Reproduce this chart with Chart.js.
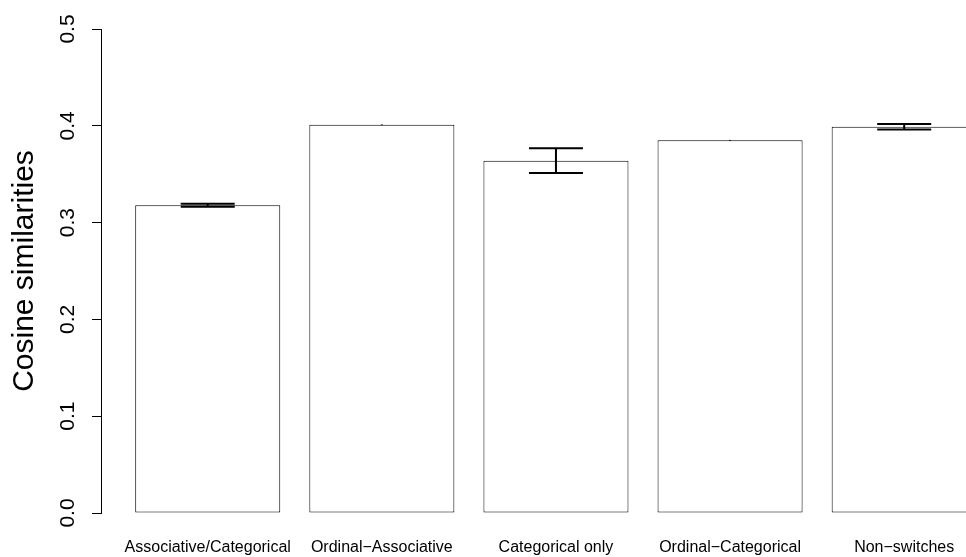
<!DOCTYPE html>
<html>
<head>
<meta charset="utf-8">
<script src="https://cdn.jsdelivr.net/npm/chart.js@4"></script>
<style>
  html, body { margin: 0; padding: 0; background: #fff; overflow: hidden; }
  canvas { display: block; }
</style>
</head>
<body>
<canvas id="barChart" width="966" height="557"></canvas>
<script>
// Data
const categories = ['Associative/Categorical', 'Ordinal\u2212Associative', 'Categorical only', 'Ordinal\u2212Categorical', 'Non\u2212switches'];
const means = [0.318, 0.401, 0.364, 0.385, 0.399];
const errors = [0.0015, 0.0004, 0.0128, 0.0004, 0.0028];
const yTicks = [0, 0.1, 0.2, 0.3, 0.4, 0.5];

const FONT = "'Liberation Sans', Arial, Helvetica, sans-serif";

// Error bars drawn from the y scale (R arrows style)
const errorBars = {
  id: 'errorBars',
  afterDatasetsDraw(chart) {
    const ctx = chart.ctx;
    const yScale = chart.scales.y;
    const meta = chart.getDatasetMeta(0);
    ctx.save();
    ctx.strokeStyle = '#000';
    ctx.lineWidth = 2;
    meta.data.forEach((bar, i) => {
      const x = bar.x;
      const top = yScale.getPixelForValue(means[i] + errors[i]);
      const bottom = yScale.getPixelForValue(means[i] - errors[i]);
      ctx.beginPath();
      ctx.moveTo(x, top);
      ctx.lineTo(x, bottom);
      // zero-length arrows get no heads in R
      if (bottom - top > 1.5) {
        ctx.moveTo(x - 27, top);
        ctx.lineTo(x + 27, top);
        ctx.moveTo(x - 27, bottom);
        ctx.lineTo(x + 27, bottom);
      }
      ctx.stroke();
    });
    ctx.restore();
  }
};

const ctx = document.getElementById('barChart').getContext('2d');
new Chart(ctx, {
  type: 'bar',
  data: {
    datasets: [{
      data: means.map((v, i) => ({ x: i, y: v })),
      backgroundColor: '#ffffff',
      borderColor: '#000000',
      borderWidth: 1,
      borderSkipped: false,
      categoryPercentage: 1,
      barPercentage: 0.833
    }]
  },
  options: {
    responsive: false,
    animation: false,
    devicePixelRatio: 1,
    layout: { padding: { top: 29, right: 0, bottom: 0, left: 0 } },
    plugins: {
      legend: { display: false },
      tooltip: { enabled: false }
    },
    scales: {
      x: {
        type: 'linear',
        position: 'bottom',
        offset: false,
        min: -0.613,
        max: 4.355,
        grid: { display: false, offset: false, drawTicks: true, tickLength: 25 },
        border: { display: false },
        afterBuildTicks: (scale) => { scale.ticks = categories.map((c, i) => ({ value: i })); },
        afterFit: (scale) => {
          scale.height = 44;
          scale.paddingLeft = 0;
          scale.paddingRight = 0;
        },
        ticks: {
          autoSkip: false,
          maxRotation: 0,
          minRotation: 0,
          padding: 0,
          color: '#000',
          font: { family: FONT, size: 16 },
          callback: (v) => categories[v]
        }
      },
      y: {
        min: 0,
        max: 0.5,
        grid: { drawOnChartArea: false, drawTicks: true, tickLength: 9, color: '#000', lineWidth: 1 },
        border: { display: true, color: '#000', width: 1 },
        afterBuildTicks: (scale) => { scale.ticks = yTicks.map(v => ({ value: v })); },
        afterFit: (scale) => {
          scale.width = 101;
          scale.paddingTop = 0;
          scale.paddingBottom = 0;
        },
        ticks: {
          minRotation: 90,
          maxRotation: 90,
          crossAlign: 'center',
          padding: 9,
          color: '#000',
          font: { family: FONT, size: 21 },
          callback: (v) => v.toFixed(1)
        },
        title: {
          display: true,
          text: 'Cosine similarities',
          color: '#000',
          font: { family: FONT, size: 30 },
          padding: { top: 7, bottom: 0 }
        }
      }
    }
  },
  plugins: [errorBars]
});
</script>
</body>
</html>
